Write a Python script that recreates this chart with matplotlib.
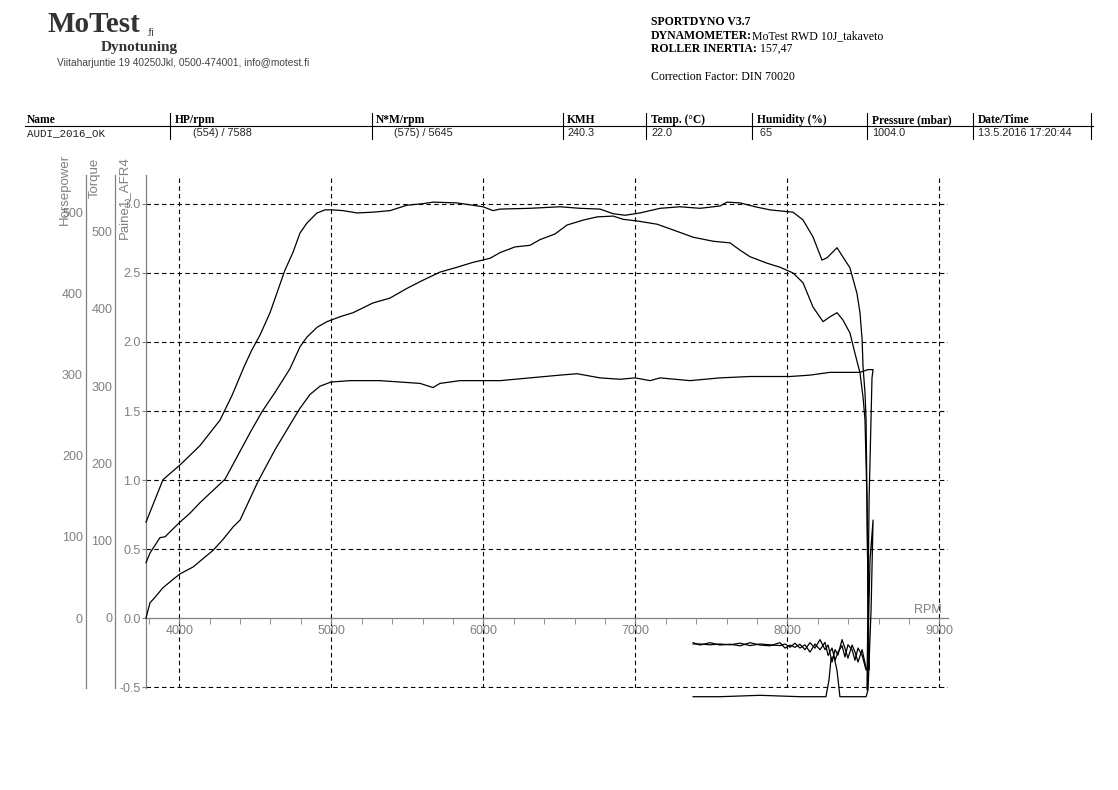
import matplotlib
matplotlib.use('Agg')
import matplotlib.pyplot as plt
from matplotlib.lines import Line2D
from matplotlib.ticker import MultipleLocator

# --- dyno run ---
# torque (Nm) on the pull
torque_rpm = [3781, 3840, 3893, 4005, 4136, 4268, 4347, 4426, 4478, 4531, 4597, 4695, 4748, 4794,
              4840, 4906, 4959, 5005, 5077, 5169, 5274, 5386, 5498, 5603, 5669, 5827, 5998, 6064,
              6110, 6307, 6505, 6636, 6768, 6854, 6933, 7031, 7163, 7294, 7426, 7557, 7603, 7689,
              7788, 7886, 8037, 8103, 8169, 8228, 8261, 8327, 8379, 8412, 8458, 8478, 8492, 8498,
              8511, 8518, 8524, 8531, 8538]
torque_nm = [124, 153, 179, 198, 223, 256, 288, 325, 347, 366, 395, 450, 473, 498,
             511, 524, 528, 528, 527, 524, 525, 527, 534, 536, 538, 537, 532, 527,
             529, 530, 532, 530, 529, 523, 521, 524, 530, 532, 530, 533, 538, 537,
             532, 528, 525, 515, 493, 463, 466, 479, 463, 453, 420, 395, 360, 325,
             291, 256, 153, 23, -65]

# power (hp) on the pull
hp_rpm = [3781, 3807, 3873, 3906, 3998, 4070, 4136, 4301, 4465, 4544, 4630, 4728, 4794, 4840,
          4906, 4972, 5057, 5143, 5274, 5386, 5498, 5603, 5715, 5827, 5932, 6044, 6110, 6208,
          6307, 6373, 6472, 6551, 6656, 6748, 6854, 6920, 7012, 7143, 7248, 7380, 7512, 7623,
          7689, 7754, 7866, 7952, 8037, 8103, 8169, 8235, 8281, 8327, 8366, 8412, 8445, 8478,
          8498, 8511, 8524, 8531, 8538]
hp_val = [68, 80, 99, 100, 117, 129, 142, 171, 228, 254, 278, 307, 334, 346,
          358, 365, 371, 376, 388, 394, 406, 416, 426, 432, 438, 443, 450, 457,
          459, 466, 473, 484, 490, 494, 495, 491, 489, 485, 478, 469, 464, 462,
          453, 445, 437, 432, 425, 413, 383, 365, 371, 376, 367, 351, 326, 302,
          272, 244, 145, 22, -64]

# coastdown losses after the pull
coast_rpm = [8518, 8492, 8465, 8445, 8426, 8399, 8379, 8360, 8333, 8314, 8294, 8268, 8248, 8215,
             8182, 8149, 8116, 8083, 8050, 8018, 7985, 7952, 7886, 7820, 7754, 7689, 7623, 7557,
             7491, 7426, 7380]
coast_hp = [-64, -46, -37, -52, -39, -33, -48, -34, -42, -52, -37, -46, -30, -39,
            -32, -42, -33, -37, -31, -36, -32, -34, -33, -32, -34, -31, -33, -32,
            -33, -32, -32]
coast_nm = [-65, -41, -57, -44, -35, -52, -39, -28, -48, -41, -57, -35, -41, -28,
            -39, -32, -41, -34, -38, -35, -39, -32, -36, -35, -32, -36, -34, -35,
            -32, -35, -32]

# boost pressure (bar), pull then coast
boost_rpm = [3781, 3807, 3840, 3893, 3959, 4005, 4091, 4156, 4222, 4288, 4354, 4400, 4518, 4630,
             4728, 4794, 4860, 4926, 4998, 5123, 5320, 5452, 5584, 5669, 5715, 5847, 5978, 6110,
             6307, 6505, 6617, 6768, 6900, 6999, 7097, 7163, 7360, 7557, 7754, 8018, 8149, 8281,
             8346, 8412, 8478, 8531, 8564, 8557, 8538, 8524, 8544, 8564, 8551, 8531, 8518, 8498,
             8346, 8327, 8307, 8288, 8274, 8254, 8083, 7820, 7557, 7380]
boost_bar = [0.0, 0.11, 0.15, 0.22, 0.28, 0.32, 0.37, 0.43, 0.49, 0.57, 0.66, 0.71, 0.99, 1.22,
             1.40, 1.52, 1.62, 1.68, 1.71, 1.72, 1.72, 1.71, 1.70, 1.67, 1.70, 1.72, 1.72, 1.72,
             1.74, 1.76, 1.77, 1.74, 1.73, 1.74, 1.72, 1.74, 1.72, 1.74, 1.75, 1.75, 1.76, 1.78,
             1.78, 1.78, 1.78, 1.80, 1.80, 1.74, 0.86, -0.52, 0.42, 0.71, 0.06, -0.52, -0.57, -0.57,
             -0.57, -0.38, -0.28, -0.29, -0.45, -0.57, -0.57, -0.56, -0.57, -0.57]

rpm_ticks = [4000, 5000, 6000, 7000, 8000, 9000]
afr_ticks = [-0.5, 0.0, 0.5, 1.0, 1.5, 2.0, 2.5, 3.0]
hp_ticks = [0, 100, 200, 300, 400, 500]
nm_ticks = [0, 100, 200, 300, 400, 500]

table_head = ['Name', 'HP/rpm', 'N*M/rpm', 'KMH', 'Temp. (°C)', 'Humidity (%)', 'Pressure (mbar)', 'Date/Time']
table_vals = ['AUDI_2016_OK', '      (554) / 7588', '      (575) / 5645', '240.3', '22.0', ' 65', '1004.0',
              '13.5.2016 17:20:44']

W, H = 1118, 790
GRAY = '#808080'


def fx(x):
    return x / W


def fy(y):
    return 1 - y / H


fig = plt.figure(figsize=(W / 100, H / 100), dpi=100)
renderer = fig.canvas.get_renderer()
serif = 'Liberation Serif'
sans = 'Liberation Sans'


def header_line(x, y, parts, size=8.5):
    # bold label followed by plain value, placed one after the other
    for txt, bold in parts:
        t = fig.text(fx(x), fy(y), txt, family=serif, weight='bold' if bold else 'normal',
                     fontsize=size, va='center')
        x += t.get_window_extent(renderer=renderer).width


# header, left
fig.text(fx(47), fy(25), 'MoTest', family=serif, weight='bold', fontsize=21, color='#333333', va='center')
fig.text(fx(146), fy(33), '.fi', family=sans, fontsize=7, color='#333333', va='center')
fig.text(fx(101), fy(48), 'Dynotuning', family=serif, weight='bold', fontsize=11, color='#333333', va='center')
fig.text(fx(57), fy(63), 'Viitaharjuntie 19 40250Jkl, 0500-474001, info@motest.fi', family=sans,
         fontsize=7.3, color='#444444', va='center')

# header, right
header_line(651, 22, [('SPORTDYNO V3.7', True)])
header_line(651, 36, [('DYNAMOMETER:', True), ('MoTest RWD 10J_takaveto', False)])
header_line(651, 49, [('ROLLER INERTIA:', True), (' 157,47', False)])
header_line(651, 77, [('Correction Factor: DIN 70020', False)])

# run table
col_x = [27, 175, 376, 567, 651, 757, 872, 978]
sep_x = [170, 372, 563, 646, 752, 867, 973, 1091]
for i in range(len(table_head)):
    fig.text(fx(col_x[i]), fy(120), table_head[i], family=serif, weight='bold', fontsize=8.3, va='center')
    fam = 'Liberation Mono' if i == 0 else sans
    fig.text(fx(col_x[i]), fy(133), table_vals[i], family=fam, fontsize=7.8, color='#222222', va='center')
fig.add_artist(Line2D([fx(25), fx(1093)], [fy(126), fy(126)], color='black', lw=0.8))
for x in sep_x:
    fig.add_artist(Line2D([fx(x), fx(x)], [fy(113), fy(139)], color='black', lw=0.8))

# main chart (boost axis)
ax = fig.add_axes([fx(146), fy(688), fx(948) - fx(146), fy(175) - fy(688)])
ax.set_xlim(3781, 9057)
ax.set_ylim(-0.507, 3.21)
for s in ['top', 'right']:
    ax.spines[s].set_visible(False)
ax.spines['bottom'].set_position(('data', 0))
for s in ['left', 'bottom']:
    ax.spines[s].set_color(GRAY)
    ax.spines[s].set_linewidth(0.9)
ax.set_xticks(rpm_ticks)
ax.xaxis.set_minor_locator(MultipleLocator(200))
ax.set_yticks(afr_ticks)
ax.set_yticklabels(['%.1f' % v for v in afr_ticks])
ax.tick_params(axis='x', which='both', direction='out', length=4, color=GRAY, labelcolor=GRAY,
               labelsize=9, pad=1)
ax.tick_params(axis='y', direction='out', length=3, color=GRAY, labelcolor=GRAY, labelsize=9, pad=1)
for lab in ax.get_xticklabels() + ax.get_yticklabels():
    lab.set_family(sans)

dash = (0, (4, 3))
for v in afr_ticks:
    if v != 0:
        ax.axhline(v, color='black', lw=0.8, linestyle=dash, zorder=1)
for v in rpm_ticks:
    ax.axvline(v, color='black', lw=0.8, linestyle=dash, zorder=1)

ax.plot(boost_rpm, boost_bar, color='black', lw=0.9, clip_on=False, zorder=3)


def side_axis(offset, lim, ticks):
    a = ax.twinx()
    a.set_ylim(*lim)
    for s in ['top', 'right', 'bottom']:
        a.spines[s].set_visible(False)
    a.spines['left'].set_visible(True)
    a.spines['left'].set_position(('axes', offset))
    a.spines['left'].set_color(GRAY)
    a.spines['left'].set_linewidth(0.9)
    a.yaxis.set_ticks_position('left')
    a.set_yticks(ticks)
    a.tick_params(axis='y', length=0, pad=2, labelcolor=GRAY, labelsize=9)
    for lab in a.get_yticklabels():
        lab.set_family(sans)
    return a


ax_hp = side_axis((85.7 - 146) / 802, (-86.2, 545.6), hp_ticks)
ax_nm = side_axis((115 - 146) / 802, (-90.6, 573.1), nm_ticks)

ax_nm.plot(torque_rpm + coast_rpm, torque_nm + coast_nm, color='black', lw=0.9, clip_on=False)
ax_hp.plot(hp_rpm + coast_rpm, hp_val + coast_hp, color='black', lw=0.9, clip_on=False)

# axis titles
fig.text(fx(65), fy(189), 'Horsepower', family=sans, fontsize=9.5, color=GRAY, rotation=90,
         ha='center', va='center')
fig.text(fx(95), fy(178), 'Torque', family=sans, fontsize=9.5, color=GRAY, rotation=90,
         ha='center', va='center')
fig.text(fx(124), fy(198), 'Paine1_AFR4', family=sans, fontsize=9.5, color=GRAY, rotation=90,
         ha='center', va='center')
fig.text(fx(928), fy(610), 'RPM', family=sans, fontsize=9, color=GRAY, ha='center', va='center')

fig.savefig('out.png', dpi=100)
